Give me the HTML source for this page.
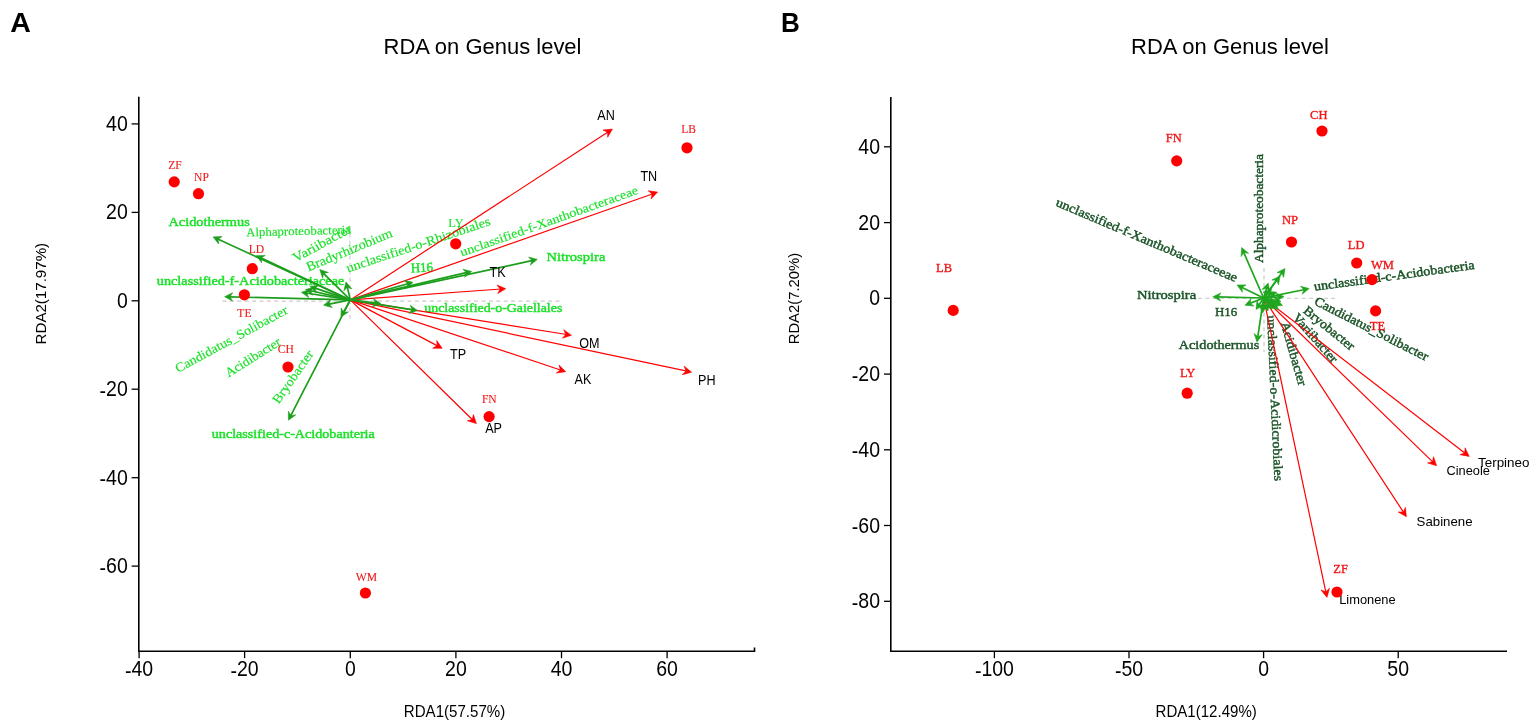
<!DOCTYPE html>
<html><head><meta charset="utf-8"><title>RDA on Genus level</title>
<style>
html,body{margin:0;padding:0;background:#fff;}
body{width:1535px;height:722px;overflow:hidden;}
svg{display:block;}
</style></head>
<body>
<svg width="1535" height="722" viewBox="0 0 1535 722">
<rect width="1535" height="722" fill="#fff"/>
<text x="10.3" y="32.1" font-size="28.5" font-family="'Liberation Sans', sans-serif" fill="#000" font-weight="bold">A</text>
<text x="383.5" y="54.3" font-size="22.6" font-family="'Liberation Sans', sans-serif" fill="#000" textLength="198.0" lengthAdjust="spacingAndGlyphs">RDA on Genus level</text>
<line x1="222.5" y1="301.1" x2="562.0" y2="301.1" stroke="#cfc8cf" stroke-width="1.1" stroke-dasharray="4,3.4"/>
<line x1="350.0" y1="226.0" x2="350.0" y2="320.0" stroke="#cfc8cf" stroke-width="1.1" stroke-dasharray="4,3.4"/>
<text x="168.4" y="226.3" font-size="12.8" font-family="'Liberation Serif', serif" fill="#1ce02a" textLength="81.4" lengthAdjust="spacingAndGlyphs" stroke="#1ce02a" stroke-width="0.45">Acidothermus</text>
<text x="246.2" y="236.4" font-size="12.3" font-family="'Liberation Serif', serif" fill="#1ce02a" textLength="105.0" lengthAdjust="spacingAndGlyphs" transform="rotate(-1.5 246.2 236.4)" stroke="#1ce02a" stroke-width="0.15">Alphaproteobacteria</text>
<text x="295.5" y="262.5" font-size="13.2" font-family="'Liberation Serif', serif" fill="#1ce02a" textLength="65.0" lengthAdjust="spacingAndGlyphs" transform="rotate(-28.5 295.5 262.5)" stroke="#1ce02a" stroke-width="0.15">Variibacter</text>
<text x="308.4" y="271.6" font-size="13.5" font-family="'Liberation Serif', serif" fill="#1ce02a" textLength="92.0" lengthAdjust="spacingAndGlyphs" transform="rotate(-22.5 308.4 271.6)" stroke="#1ce02a" stroke-width="0.15">Bradyrhizobium</text>
<text x="348.0" y="272.6" font-size="13" font-family="'Liberation Serif', serif" fill="#1ce02a" textLength="151.0" lengthAdjust="spacingAndGlyphs" transform="rotate(-18.5 348.0 272.6)" stroke="#1ce02a" stroke-width="0.15">unclassified-o-Rhizobiales</text>
<text x="461.8" y="256.6" font-size="12.5" font-family="'Liberation Serif', serif" fill="#1ce02a" textLength="188.0" lengthAdjust="spacingAndGlyphs" transform="rotate(-19.6 461.8 256.6)" stroke="#1ce02a" stroke-width="0.15">unclassified-f-Xanthobacteraceae</text>
<text x="410.9" y="272.6" font-size="13.5" font-family="'Liberation Serif', serif" fill="#1ce02a" textLength="22.4" lengthAdjust="spacingAndGlyphs" transform="rotate(-3.0 410.9 272.6)" stroke="#1ce02a" stroke-width="0.45">H16</text>
<text x="546.4" y="260.6" font-size="13.5" font-family="'Liberation Serif', serif" fill="#1ce02a" textLength="59.0" lengthAdjust="spacingAndGlyphs" stroke="#1ce02a" stroke-width="0.45">Nitrospira</text>
<text x="156.8" y="285.3" font-size="12.8" font-family="'Liberation Serif', serif" fill="#1ce02a" textLength="187.5" lengthAdjust="spacingAndGlyphs" stroke="#1ce02a" stroke-width="0.45">unclassified-f-Acidobacteriaceae</text>
<text x="424.3" y="312.2" font-size="13" font-family="'Liberation Serif', serif" fill="#1ce02a" textLength="138.0" lengthAdjust="spacingAndGlyphs" stroke="#1ce02a" stroke-width="0.45">unclassified-o-Gaiellales</text>
<text x="178.0" y="373.0" font-size="13" font-family="'Liberation Serif', serif" fill="#1ce02a" textLength="126.0" lengthAdjust="spacingAndGlyphs" transform="rotate(-28.5 178.0 373.0)" stroke="#1ce02a" stroke-width="0.15">Candidatus_Solibacter</text>
<text x="228.5" y="377.5" font-size="13" font-family="'Liberation Serif', serif" fill="#1ce02a" textLength="63.0" lengthAdjust="spacingAndGlyphs" transform="rotate(-32.0 228.5 377.5)" stroke="#1ce02a" stroke-width="0.15">Acidibacter</text>
<text x="278.8" y="404.4" font-size="13" font-family="'Liberation Serif', serif" fill="#1ce02a" textLength="61.5" lengthAdjust="spacingAndGlyphs" transform="rotate(-55.0 278.8 404.4)" stroke="#1ce02a" stroke-width="0.15">Bryobacter</text>
<text x="211.8" y="437.8" font-size="12.8" font-family="'Liberation Serif', serif" fill="#1ce02a" textLength="163.0" lengthAdjust="spacingAndGlyphs" stroke="#1ce02a" stroke-width="0.45">unclassified-c-Acidobanteria</text>
<line x1="350.3" y1="299.9" x2="608.4" y2="131.7" stroke="#ff0000" stroke-width="1.2" stroke-linecap="round"/>
<path d="M612.4,129.1L603.0,130.1L607.6,132.2L607.7,137.3Z" fill="#ff0000" stroke="#ff0000" stroke-width="0.6" stroke-linejoin="round"/>
<line x1="350.3" y1="299.9" x2="653.1" y2="193.7" stroke="#ff0000" stroke-width="1.2" stroke-linecap="round"/>
<path d="M657.6,192.1L648.2,190.8L652.2,194.0L651.0,199.0Z" fill="#ff0000" stroke="#ff0000" stroke-width="0.6" stroke-linejoin="round"/>
<line x1="350.3" y1="299.9" x2="501.1" y2="289.0" stroke="#ff0000" stroke-width="1.2" stroke-linecap="round"/>
<path d="M505.8,288.7L497.0,285.0L500.1,289.1L497.7,293.6Z" fill="#ff0000" stroke="#ff0000" stroke-width="0.6" stroke-linejoin="round"/>
<line x1="350.3" y1="299.9" x2="566.7" y2="334.5" stroke="#ff0000" stroke-width="1.2" stroke-linecap="round"/>
<path d="M571.4,335.3L563.7,329.7L565.8,334.4L562.4,338.2Z" fill="#ff0000" stroke="#ff0000" stroke-width="0.6" stroke-linejoin="round"/>
<line x1="350.3" y1="299.9" x2="438.0" y2="346.1" stroke="#ff0000" stroke-width="1.2" stroke-linecap="round"/>
<path d="M442.2,348.3L436.7,340.5L437.2,345.6L432.7,348.2Z" fill="#ff0000" stroke="#ff0000" stroke-width="0.6" stroke-linejoin="round"/>
<line x1="350.3" y1="299.9" x2="561.2" y2="370.2" stroke="#ff0000" stroke-width="1.2" stroke-linecap="round"/>
<path d="M565.7,371.7L559.0,364.9L560.3,369.9L556.3,373.1Z" fill="#ff0000" stroke="#ff0000" stroke-width="0.6" stroke-linejoin="round"/>
<line x1="350.3" y1="299.9" x2="687.0" y2="371.2" stroke="#ff0000" stroke-width="1.2" stroke-linecap="round"/>
<path d="M691.6,372.2L684.2,366.2L686.0,371.0L682.4,374.7Z" fill="#ff0000" stroke="#ff0000" stroke-width="0.6" stroke-linejoin="round"/>
<line x1="350.3" y1="299.9" x2="473.0" y2="420.3" stroke="#ff0000" stroke-width="1.2" stroke-linecap="round"/>
<path d="M476.4,423.6L473.4,414.6L472.3,419.6L467.3,420.8Z" fill="#ff0000" stroke="#ff0000" stroke-width="0.6" stroke-linejoin="round"/>
<line x1="350.3" y1="299.9" x2="217.2" y2="238.8" stroke="#1c9e1c" stroke-width="1.7" stroke-linecap="round"/>
<path d="M213.1,236.9L218.7,244.0L218.0,239.2L222.1,236.5Z" fill="#1c9e1c" stroke="#1c9e1c" stroke-width="0.6" stroke-linejoin="round"/>
<line x1="350.3" y1="299.9" x2="260.3" y2="257.6" stroke="#1c9e1c" stroke-width="1.7" stroke-linecap="round"/>
<path d="M256.2,255.7L261.7,262.8L261.1,258.0L265.2,255.4Z" fill="#1c9e1c" stroke="#1c9e1c" stroke-width="0.6" stroke-linejoin="round"/>
<line x1="350.3" y1="299.9" x2="229.1" y2="296.8" stroke="#1c9e1c" stroke-width="1.7" stroke-linecap="round"/>
<path d="M224.6,296.7L232.5,301.0L230.0,296.8L232.7,292.8Z" fill="#1c9e1c" stroke="#1c9e1c" stroke-width="0.6" stroke-linejoin="round"/>
<line x1="350.3" y1="299.9" x2="323.0" y2="272.8" stroke="#1c9e1c" stroke-width="1.7" stroke-linecap="round"/>
<path d="M319.8,269.6L322.6,278.2L323.6,273.4L328.4,272.4Z" fill="#1c9e1c" stroke="#1c9e1c" stroke-width="0.6" stroke-linejoin="round"/>
<line x1="350.3" y1="299.9" x2="347.1" y2="286.4" stroke="#1c9e1c" stroke-width="1.7" stroke-linecap="round"/>
<path d="M346.0,282.0L343.9,290.8L347.3,287.3L351.8,288.8Z" fill="#1c9e1c" stroke="#1c9e1c" stroke-width="0.6" stroke-linejoin="round"/>
<line x1="350.3" y1="299.9" x2="305.8" y2="293.0" stroke="#1c9e1c" stroke-width="1.7" stroke-linecap="round"/>
<path d="M301.4,292.3L308.7,297.6L306.7,293.1L310.0,289.5Z" fill="#1c9e1c" stroke="#1c9e1c" stroke-width="0.6" stroke-linejoin="round"/>
<line x1="350.3" y1="299.9" x2="309.9" y2="290.5" stroke="#1c9e1c" stroke-width="1.7" stroke-linecap="round"/>
<path d="M305.5,289.5L312.4,295.3L310.8,290.7L314.2,287.3Z" fill="#1c9e1c" stroke="#1c9e1c" stroke-width="0.6" stroke-linejoin="round"/>
<line x1="350.3" y1="299.9" x2="314.3" y2="287.9" stroke="#1c9e1c" stroke-width="1.7" stroke-linecap="round"/>
<path d="M310.0,286.5L316.3,292.9L315.1,288.2L318.9,285.2Z" fill="#1c9e1c" stroke="#1c9e1c" stroke-width="0.6" stroke-linejoin="round"/>
<line x1="350.3" y1="299.9" x2="328.0" y2="304.3" stroke="#1c9e1c" stroke-width="1.7" stroke-linecap="round"/>
<path d="M323.6,305.2L332.3,307.6L328.9,304.1L330.7,299.6Z" fill="#1c9e1c" stroke="#1c9e1c" stroke-width="0.6" stroke-linejoin="round"/>
<line x1="350.3" y1="299.9" x2="343.1" y2="313.0" stroke="#1c9e1c" stroke-width="1.7" stroke-linecap="round"/>
<path d="M341.0,317.0L348.4,311.9L343.6,312.3L341.2,308.0Z" fill="#1c9e1c" stroke="#1c9e1c" stroke-width="0.6" stroke-linejoin="round"/>
<line x1="350.3" y1="299.9" x2="290.5" y2="416.2" stroke="#1c9e1c" stroke-width="1.7" stroke-linecap="round"/>
<path d="M288.4,420.2L295.7,414.9L290.9,415.4L288.4,411.2Z" fill="#1c9e1c" stroke="#1c9e1c" stroke-width="0.6" stroke-linejoin="round"/>
<line x1="350.3" y1="299.9" x2="532.9" y2="260.4" stroke="#1c9e1c" stroke-width="1.7" stroke-linecap="round"/>
<path d="M537.3,259.4L528.6,257.1L532.0,260.5L530.3,265.1Z" fill="#1c9e1c" stroke="#1c9e1c" stroke-width="0.6" stroke-linejoin="round"/>
<line x1="350.3" y1="299.9" x2="467.2" y2="272.4" stroke="#1c9e1c" stroke-width="1.7" stroke-linecap="round"/>
<path d="M471.6,271.4L462.9,269.3L466.3,272.6L464.7,277.2Z" fill="#1c9e1c" stroke="#1c9e1c" stroke-width="0.6" stroke-linejoin="round"/>
<line x1="350.3" y1="299.9" x2="408.7" y2="283.5" stroke="#1c9e1c" stroke-width="1.7" stroke-linecap="round"/>
<path d="M413.0,282.3L404.2,280.5L407.8,283.8L406.4,288.4Z" fill="#1c9e1c" stroke="#1c9e1c" stroke-width="0.6" stroke-linejoin="round"/>
<line x1="350.3" y1="299.9" x2="413.1" y2="309.9" stroke="#1c9e1c" stroke-width="1.7" stroke-linecap="round"/>
<path d="M417.5,310.6L410.2,305.3L412.2,309.8L408.9,313.4Z" fill="#1c9e1c" stroke="#1c9e1c" stroke-width="0.6" stroke-linejoin="round"/>
<line x1="350.3" y1="299.9" x2="376.5" y2="303.1" stroke="#1c9e1c" stroke-width="1.7" stroke-linecap="round"/>
<path d="M381.0,303.7L373.5,298.7L375.6,303.0L372.5,306.8Z" fill="#1c9e1c" stroke="#1c9e1c" stroke-width="0.6" stroke-linejoin="round"/>
<text x="606.0" y="120.1" font-size="14.4" font-family="'Liberation Sans', sans-serif" fill="#000" text-anchor="middle" textLength="17.5" lengthAdjust="spacingAndGlyphs">AN</text>
<text x="648.8" y="181.1" font-size="14.4" font-family="'Liberation Sans', sans-serif" fill="#000" text-anchor="middle" textLength="16.8" lengthAdjust="spacingAndGlyphs">TN</text>
<text x="497.6" y="277.3" font-size="14.4" font-family="'Liberation Sans', sans-serif" fill="#000" text-anchor="middle" textLength="16.1" lengthAdjust="spacingAndGlyphs">TK</text>
<text x="589.3" y="347.6" font-size="14.4" font-family="'Liberation Sans', sans-serif" fill="#000" text-anchor="middle" textLength="20.3" lengthAdjust="spacingAndGlyphs">OM</text>
<text x="458.1" y="359.1" font-size="14.4" font-family="'Liberation Sans', sans-serif" fill="#000" text-anchor="middle" textLength="16.1" lengthAdjust="spacingAndGlyphs">TP</text>
<text x="583.0" y="384.0" font-size="14.4" font-family="'Liberation Sans', sans-serif" fill="#000" text-anchor="middle" textLength="16.8" lengthAdjust="spacingAndGlyphs">AK</text>
<text x="706.8" y="384.8" font-size="14.4" font-family="'Liberation Sans', sans-serif" fill="#000" text-anchor="middle" textLength="17.5" lengthAdjust="spacingAndGlyphs">PH</text>
<text x="493.6" y="432.7" font-size="14.4" font-family="'Liberation Sans', sans-serif" fill="#000" text-anchor="middle" textLength="16.8" lengthAdjust="spacingAndGlyphs">AP</text>
<circle cx="174.2" cy="181.9" r="5.6" fill="#ff0000"/>
<text x="174.9" y="168.7" font-size="12.4" font-family="'Liberation Serif', serif" fill="#f01818" text-anchor="middle" textLength="13.5" lengthAdjust="spacingAndGlyphs" stroke="#f01818" stroke-width="0.1">ZF</text>
<circle cx="198.5" cy="193.7" r="5.6" fill="#ff0000"/>
<text x="201.5" y="181.2" font-size="12.4" font-family="'Liberation Serif', serif" fill="#f01818" text-anchor="middle" textLength="14.8" lengthAdjust="spacingAndGlyphs" stroke="#f01818" stroke-width="0.1">NP</text>
<circle cx="252.3" cy="268.7" r="5.6" fill="#ff0000"/>
<text x="256.4" y="252.5" font-size="12.4" font-family="'Liberation Serif', serif" fill="#f01818" text-anchor="middle" textLength="15.5" lengthAdjust="spacingAndGlyphs" stroke="#f01818" stroke-width="0.1">LD</text>
<circle cx="244.4" cy="294.8" r="5.6" fill="#ff0000"/>
<text x="244.4" y="317.0" font-size="12.4" font-family="'Liberation Serif', serif" fill="#f01818" text-anchor="middle" textLength="14.2" lengthAdjust="spacingAndGlyphs" stroke="#f01818" stroke-width="0.1">TE</text>
<circle cx="288.0" cy="367.0" r="5.6" fill="#ff0000"/>
<text x="285.8" y="352.6" font-size="12.4" font-family="'Liberation Serif', serif" fill="#f01818" text-anchor="middle" textLength="16.1" lengthAdjust="spacingAndGlyphs" stroke="#f01818" stroke-width="0.1">CH</text>
<circle cx="455.7" cy="243.8" r="5.6" fill="#ff0000"/>
<text x="456.1" y="226.5" font-size="12.4" font-family="'Liberation Serif', serif" fill="#1ce02a" text-anchor="middle" textLength="15.5" lengthAdjust="spacingAndGlyphs" stroke="#1ce02a" stroke-width="0.1">LY</text>
<circle cx="489.1" cy="416.6" r="5.6" fill="#ff0000"/>
<text x="489.3" y="403.2" font-size="12.4" font-family="'Liberation Serif', serif" fill="#f01818" text-anchor="middle" textLength="14.8" lengthAdjust="spacingAndGlyphs" stroke="#f01818" stroke-width="0.1">FN</text>
<circle cx="365.4" cy="593.0" r="5.6" fill="#ff0000"/>
<text x="366.5" y="580.5" font-size="12.4" font-family="'Liberation Serif', serif" fill="#f01818" text-anchor="middle" textLength="21.3" lengthAdjust="spacingAndGlyphs" stroke="#f01818" stroke-width="0.1">WM</text>
<circle cx="687.0" cy="147.8" r="5.6" fill="#ff0000"/>
<text x="688.6" y="133.2" font-size="12.4" font-family="'Liberation Serif', serif" fill="#f01818" text-anchor="middle" textLength="14.8" lengthAdjust="spacingAndGlyphs" stroke="#f01818" stroke-width="0.1">LB</text>
<path d="M138.8,96.8V651.2H754.5V647.6" fill="none" stroke="#000" stroke-width="1.6"/>
<line x1="131.6" y1="123.9" x2="138.8" y2="123.9" stroke="#000" stroke-width="1.3" />
<text x="127.8" y="130.9" font-size="22.4" font-family="'Liberation Sans', sans-serif" fill="#000" text-anchor="end" textLength="21.7" lengthAdjust="spacingAndGlyphs">40</text>
<line x1="131.6" y1="212.4" x2="138.8" y2="212.4" stroke="#000" stroke-width="1.3" />
<text x="127.8" y="219.4" font-size="22.4" font-family="'Liberation Sans', sans-serif" fill="#000" text-anchor="end" textLength="21.7" lengthAdjust="spacingAndGlyphs">20</text>
<line x1="131.6" y1="300.8" x2="138.8" y2="300.8" stroke="#000" stroke-width="1.3" />
<text x="127.8" y="307.8" font-size="22.4" font-family="'Liberation Sans', sans-serif" fill="#000" text-anchor="end" textLength="10.8" lengthAdjust="spacingAndGlyphs">0</text>
<line x1="131.6" y1="389.2" x2="138.8" y2="389.2" stroke="#000" stroke-width="1.3" />
<text x="127.8" y="396.2" font-size="22.4" font-family="'Liberation Sans', sans-serif" fill="#000" text-anchor="end" textLength="28.2" lengthAdjust="spacingAndGlyphs"><tspan dy="1.6">-</tspan><tspan dy="-1.6">20</tspan></text>
<line x1="131.6" y1="477.7" x2="138.8" y2="477.7" stroke="#000" stroke-width="1.3" />
<text x="127.8" y="484.7" font-size="22.4" font-family="'Liberation Sans', sans-serif" fill="#000" text-anchor="end" textLength="28.2" lengthAdjust="spacingAndGlyphs"><tspan dy="1.6">-</tspan><tspan dy="-1.6">40</tspan></text>
<line x1="131.6" y1="566.1" x2="138.8" y2="566.1" stroke="#000" stroke-width="1.3" />
<text x="127.8" y="573.1" font-size="22.4" font-family="'Liberation Sans', sans-serif" fill="#000" text-anchor="end" textLength="28.2" lengthAdjust="spacingAndGlyphs"><tspan dy="1.6">-</tspan><tspan dy="-1.6">60</tspan></text>
<line x1="139.1" y1="651.2" x2="139.1" y2="658.2" stroke="#000" stroke-width="1.3" />
<text x="139.1" y="676.4" font-size="22.4" font-family="'Liberation Sans', sans-serif" fill="#000" text-anchor="middle" textLength="28.2" lengthAdjust="spacingAndGlyphs"><tspan dy="1.6">-</tspan><tspan dy="-1.6">40</tspan></text>
<line x1="244.6" y1="651.2" x2="244.6" y2="658.2" stroke="#000" stroke-width="1.3" />
<text x="244.6" y="676.4" font-size="22.4" font-family="'Liberation Sans', sans-serif" fill="#000" text-anchor="middle" textLength="28.2" lengthAdjust="spacingAndGlyphs"><tspan dy="1.6">-</tspan><tspan dy="-1.6">20</tspan></text>
<line x1="350.3" y1="651.2" x2="350.3" y2="658.2" stroke="#000" stroke-width="1.3" />
<text x="350.3" y="676.4" font-size="22.4" font-family="'Liberation Sans', sans-serif" fill="#000" text-anchor="middle" textLength="10.8" lengthAdjust="spacingAndGlyphs">0</text>
<line x1="455.9" y1="651.2" x2="455.9" y2="658.2" stroke="#000" stroke-width="1.3" />
<text x="455.9" y="676.4" font-size="22.4" font-family="'Liberation Sans', sans-serif" fill="#000" text-anchor="middle" textLength="21.7" lengthAdjust="spacingAndGlyphs">20</text>
<line x1="561.5" y1="651.2" x2="561.5" y2="658.2" stroke="#000" stroke-width="1.3" />
<text x="561.5" y="676.4" font-size="22.4" font-family="'Liberation Sans', sans-serif" fill="#000" text-anchor="middle" textLength="21.7" lengthAdjust="spacingAndGlyphs">40</text>
<line x1="667.1" y1="651.2" x2="667.1" y2="658.2" stroke="#000" stroke-width="1.3" />
<text x="667.1" y="676.4" font-size="22.4" font-family="'Liberation Sans', sans-serif" fill="#000" text-anchor="middle" textLength="21.7" lengthAdjust="spacingAndGlyphs">60</text>
<text x="403.8" y="716.7" font-size="17.2" font-family="'Liberation Sans', sans-serif" fill="#000" textLength="101.5" lengthAdjust="spacingAndGlyphs">RDA1(57.57%)</text>
<text x="45.7" y="344.4" font-size="15.5" font-family="'Liberation Sans', sans-serif" fill="#000" textLength="101.5" lengthAdjust="spacingAndGlyphs" transform="rotate(-90.0 45.7 344.4)">RDA2(17.97%)</text>
<text x="781.1" y="32.1" font-size="28.5" font-family="'Liberation Sans', sans-serif" fill="#000" font-weight="bold" textLength="18.8" lengthAdjust="spacingAndGlyphs">B</text>
<text x="1131.0" y="54.3" font-size="22.6" font-family="'Liberation Sans', sans-serif" fill="#000" textLength="198.0" lengthAdjust="spacingAndGlyphs">RDA on Genus level</text>
<line x1="1198.0" y1="298.3" x2="1335.0" y2="298.3" stroke="#c4c4c4" stroke-width="1.1" stroke-dasharray="4,3.4"/>
<line x1="1264.0" y1="268.0" x2="1264.0" y2="352.0" stroke="#c4c4c4" stroke-width="1.1" stroke-dasharray="4,3.4"/>
<text x="1055.0" y="205.5" font-size="12.9" font-family="'Liberation Serif', serif" fill="#1b5428" textLength="196.0" lengthAdjust="spacingAndGlyphs" transform="rotate(23.0 1055.0 205.5)" stroke="#1b5428" stroke-width="0.45">unclassified-f-Xanthobacteraceeae</text>
<text x="1262.6" y="263.0" font-size="12.9" font-family="'Liberation Serif', serif" fill="#1b5428" textLength="109.0" lengthAdjust="spacingAndGlyphs" transform="rotate(-90.0 1262.6 263.0)" stroke="#1b5428" stroke-width="0.45">Alphaproteobacteria</text>
<text x="1137.0" y="298.8" font-size="12.9" font-family="'Liberation Serif', serif" fill="#1b5428" textLength="59.2" lengthAdjust="spacingAndGlyphs" stroke="#1b5428" stroke-width="0.45">Nitrospira</text>
<text x="1215.0" y="316.0" font-size="12.9" font-family="'Liberation Serif', serif" fill="#1b5428" textLength="22.2" lengthAdjust="spacingAndGlyphs" stroke="#1b5428" stroke-width="0.45">H16</text>
<text x="1178.8" y="349.4" font-size="13.2" font-family="'Liberation Serif', serif" fill="#1b5428" textLength="80.4" lengthAdjust="spacingAndGlyphs" stroke="#1b5428" stroke-width="0.45">Acidothermus</text>
<text x="1314.5" y="290.8" font-size="12.9" font-family="'Liberation Serif', serif" fill="#1b5428" textLength="162.0" lengthAdjust="spacingAndGlyphs" transform="rotate(-7.8 1314.5 290.8)" stroke="#1b5428" stroke-width="0.45">unclassified-c-Acidobacteria</text>
<text x="1313.5" y="304.0" font-size="12.9" font-family="'Liberation Serif', serif" fill="#1b5428" textLength="126.0" lengthAdjust="spacingAndGlyphs" transform="rotate(27.0 1313.5 304.0)" stroke="#1b5428" stroke-width="0.45">Candidatus_Solibacter</text>
<text x="1302.5" y="312.0" font-size="12.9" font-family="'Liberation Serif', serif" fill="#1b5428" textLength="62.0" lengthAdjust="spacingAndGlyphs" transform="rotate(39.0 1302.5 312.0)" stroke="#1b5428" stroke-width="0.45">Bryobacter</text>
<text x="1292.0" y="318.0" font-size="12.9" font-family="'Liberation Serif', serif" fill="#1b5428" textLength="61.0" lengthAdjust="spacingAndGlyphs" transform="rotate(48.6 1292.0 318.0)" stroke="#1b5428" stroke-width="0.45">Variibacter</text>
<text x="1280.7" y="323.2" font-size="12.9" font-family="'Liberation Serif', serif" fill="#1b5428" textLength="66.0" lengthAdjust="spacingAndGlyphs" transform="rotate(74.0 1280.7 323.2)" stroke="#1b5428" stroke-width="0.45">Acidibacter</text>
<text x="1267.2" y="315.5" font-size="12.9" font-family="'Liberation Serif', serif" fill="#1b5428" textLength="166.0" lengthAdjust="spacingAndGlyphs" transform="rotate(87.5 1267.2 315.5)" stroke="#1b5428" stroke-width="0.45">unclassified-o-Acidicrobiales</text>
<line x1="1263.6" y1="298.0" x2="1465.4" y2="453.5" stroke="#ff0000" stroke-width="1.2" stroke-linecap="round"/>
<path d="M1469.2,456.4L1465.1,447.8L1464.7,452.9L1459.9,454.7Z" fill="#ff0000" stroke="#ff0000" stroke-width="0.6" stroke-linejoin="round"/>
<line x1="1263.6" y1="298.0" x2="1433.2" y2="462.4" stroke="#ff0000" stroke-width="1.2" stroke-linecap="round"/>
<path d="M1436.6,465.7L1433.5,456.7L1432.5,461.7L1427.5,462.9Z" fill="#ff0000" stroke="#ff0000" stroke-width="0.6" stroke-linejoin="round"/>
<line x1="1263.6" y1="298.0" x2="1403.8" y2="512.7" stroke="#ff0000" stroke-width="1.2" stroke-linecap="round"/>
<path d="M1406.4,516.7L1405.4,507.3L1403.3,511.9L1398.2,512.0Z" fill="#ff0000" stroke="#ff0000" stroke-width="0.6" stroke-linejoin="round"/>
<line x1="1263.6" y1="298.0" x2="1326.0" y2="592.8" stroke="#ff0000" stroke-width="1.2" stroke-linecap="round"/>
<path d="M1327.0,597.4L1329.5,588.2L1325.8,591.8L1321.0,590.0Z" fill="#ff0000" stroke="#ff0000" stroke-width="0.6" stroke-linejoin="round"/>
<line x1="1263.6" y1="298.0" x2="1243.4" y2="251.7" stroke="#1fa61f" stroke-width="1.7" stroke-linecap="round"/>
<path d="M1241.6,247.6L1241.1,256.6L1243.8,252.5L1248.6,253.3Z" fill="#1fa61f" stroke="#1fa61f" stroke-width="0.6" stroke-linejoin="round"/>
<line x1="1263.6" y1="298.0" x2="1282.4" y2="272.1" stroke="#1fa61f" stroke-width="1.7" stroke-linecap="round"/>
<path d="M1285.0,268.5L1277.0,272.6L1281.8,272.9L1283.6,277.4Z" fill="#1fa61f" stroke="#1fa61f" stroke-width="0.6" stroke-linejoin="round"/>
<line x1="1263.6" y1="298.0" x2="1277.3" y2="279.6" stroke="#1fa61f" stroke-width="1.7" stroke-linecap="round"/>
<path d="M1280.0,276.0L1271.9,280.0L1276.8,280.3L1278.5,284.9Z" fill="#1fa61f" stroke="#1fa61f" stroke-width="0.6" stroke-linejoin="round"/>
<line x1="1263.6" y1="298.0" x2="1266.9" y2="287.3" stroke="#1fa61f" stroke-width="1.7" stroke-linecap="round"/>
<path d="M1268.2,283.0L1261.9,289.5L1266.6,288.2L1269.8,291.9Z" fill="#1fa61f" stroke="#1fa61f" stroke-width="0.6" stroke-linejoin="round"/>
<line x1="1263.6" y1="298.0" x2="1304.8" y2="289.5" stroke="#1fa61f" stroke-width="1.7" stroke-linecap="round"/>
<path d="M1309.2,288.6L1300.5,286.2L1303.9,289.7L1302.2,294.2Z" fill="#1fa61f" stroke="#1fa61f" stroke-width="0.6" stroke-linejoin="round"/>
<line x1="1263.6" y1="298.0" x2="1217.3" y2="296.9" stroke="#1fa61f" stroke-width="1.7" stroke-linecap="round"/>
<path d="M1212.8,296.8L1220.7,301.1L1218.2,296.9L1220.9,292.9Z" fill="#1fa61f" stroke="#1fa61f" stroke-width="0.6" stroke-linejoin="round"/>
<line x1="1263.6" y1="298.0" x2="1249.2" y2="303.6" stroke="#1fa61f" stroke-width="1.7" stroke-linecap="round"/>
<path d="M1245.0,305.2L1254.0,306.1L1250.0,303.3L1251.0,298.5Z" fill="#1fa61f" stroke="#1fa61f" stroke-width="0.6" stroke-linejoin="round"/>
<line x1="1263.6" y1="298.0" x2="1241.0" y2="287.0" stroke="#1fa61f" stroke-width="1.7" stroke-linecap="round"/>
<path d="M1237.0,285.0L1242.4,292.2L1241.9,287.4L1246.0,284.9Z" fill="#1fa61f" stroke="#1fa61f" stroke-width="0.6" stroke-linejoin="round"/>
<line x1="1263.6" y1="298.0" x2="1257.7" y2="337.5" stroke="#1fa61f" stroke-width="1.7" stroke-linecap="round"/>
<path d="M1257.0,342.0L1262.2,334.7L1257.8,336.7L1254.1,333.5Z" fill="#1fa61f" stroke="#1fa61f" stroke-width="0.6" stroke-linejoin="round"/>
<line x1="1263.6" y1="298.0" x2="1276.6" y2="300.6" stroke="#1fa61f" stroke-width="1.7" stroke-linecap="round"/>
<path d="M1281.0,301.5L1273.9,295.9L1275.7,300.4L1272.3,303.9Z" fill="#1fa61f" stroke="#1fa61f" stroke-width="0.6" stroke-linejoin="round"/>
<line x1="1263.6" y1="298.0" x2="1272.2" y2="303.6" stroke="#1fa61f" stroke-width="1.7" stroke-linecap="round"/>
<path d="M1276.0,306.0L1271.5,298.2L1271.5,303.1L1267.0,305.1Z" fill="#1fa61f" stroke="#1fa61f" stroke-width="0.6" stroke-linejoin="round"/>
<line x1="1263.6" y1="298.0" x2="1269.3" y2="305.4" stroke="#1fa61f" stroke-width="1.7" stroke-linecap="round"/>
<path d="M1272.0,309.0L1270.4,300.1L1268.7,304.7L1263.9,305.1Z" fill="#1fa61f" stroke="#1fa61f" stroke-width="0.6" stroke-linejoin="round"/>
<line x1="1263.6" y1="298.0" x2="1266.6" y2="306.7" stroke="#1fa61f" stroke-width="1.7" stroke-linecap="round"/>
<path d="M1268.0,311.0L1269.3,302.1L1266.3,305.9L1261.6,304.7Z" fill="#1fa61f" stroke="#1fa61f" stroke-width="0.6" stroke-linejoin="round"/>
<line x1="1263.6" y1="298.0" x2="1279.5" y2="296.8" stroke="#1fa61f" stroke-width="1.7" stroke-linecap="round"/>
<path d="M1284.0,296.5L1275.7,293.0L1278.6,296.9L1276.3,301.2Z" fill="#1fa61f" stroke="#1fa61f" stroke-width="0.6" stroke-linejoin="round"/>
<line x1="1263.6" y1="298.0" x2="1278.3" y2="303.8" stroke="#1fa61f" stroke-width="1.7" stroke-linecap="round"/>
<path d="M1282.5,305.5L1276.6,298.7L1277.5,303.5L1273.5,306.3Z" fill="#1fa61f" stroke="#1fa61f" stroke-width="0.6" stroke-linejoin="round"/>
<line x1="1263.6" y1="298.0" x2="1274.9" y2="306.8" stroke="#1fa61f" stroke-width="1.7" stroke-linecap="round"/>
<path d="M1278.5,309.5L1274.6,301.4L1274.2,306.2L1269.7,307.8Z" fill="#1fa61f" stroke="#1fa61f" stroke-width="0.6" stroke-linejoin="round"/>
<line x1="1263.6" y1="298.0" x2="1262.8" y2="308.5" stroke="#1fa61f" stroke-width="1.7" stroke-linecap="round"/>
<path d="M1262.5,313.0L1267.2,305.3L1262.9,307.6L1259.0,304.7Z" fill="#1fa61f" stroke="#1fa61f" stroke-width="0.6" stroke-linejoin="round"/>
<line x1="1263.6" y1="298.0" x2="1258.5" y2="305.7" stroke="#1fa61f" stroke-width="1.7" stroke-linecap="round"/>
<path d="M1256.0,309.5L1263.8,305.1L1259.0,305.0L1257.0,300.6Z" fill="#1fa61f" stroke="#1fa61f" stroke-width="0.6" stroke-linejoin="round"/>
<line x1="1263.6" y1="298.0" x2="1268.5" y2="292.4" stroke="#1fa61f" stroke-width="1.7" stroke-linecap="round"/>
<path d="M1271.5,289.0L1263.1,292.3L1267.9,293.1L1269.3,297.7Z" fill="#1fa61f" stroke="#1fa61f" stroke-width="0.6" stroke-linejoin="round"/>
<line x1="1263.6" y1="298.0" x2="1272.4" y2="293.9" stroke="#1fa61f" stroke-width="1.7" stroke-linecap="round"/>
<path d="M1276.5,292.0L1267.5,291.7L1271.6,294.3L1271.0,299.1Z" fill="#1fa61f" stroke="#1fa61f" stroke-width="0.6" stroke-linejoin="round"/>
<text x="1478.0" y="466.6" font-size="13.6" font-family="'Liberation Sans', sans-serif" fill="#000" textLength="51.5" lengthAdjust="spacingAndGlyphs">Terpineo</text>
<text x="1446.4" y="474.8" font-size="13.6" font-family="'Liberation Sans', sans-serif" fill="#000" textLength="43.5" lengthAdjust="spacingAndGlyphs">Cineole</text>
<text x="1416.6" y="525.6" font-size="13.6" font-family="'Liberation Sans', sans-serif" fill="#000" textLength="56.0" lengthAdjust="spacingAndGlyphs">Sabinene</text>
<text x="1339.2" y="604.4" font-size="13.6" font-family="'Liberation Sans', sans-serif" fill="#000" textLength="56.5" lengthAdjust="spacingAndGlyphs">Limonene</text>
<circle cx="1176.7" cy="160.9" r="5.6" fill="#ff0000"/>
<text x="1173.8" y="141.9" font-size="12.5" font-family="'Liberation Serif', serif" fill="#f01818" text-anchor="middle" stroke="#f01818" stroke-width="0.35">FN</text>
<circle cx="1322.0" cy="131.0" r="5.6" fill="#ff0000"/>
<text x="1318.8" y="118.7" font-size="12.5" font-family="'Liberation Serif', serif" fill="#f01818" text-anchor="middle" stroke="#f01818" stroke-width="0.35">CH</text>
<circle cx="1291.5" cy="242.0" r="5.6" fill="#ff0000"/>
<text x="1290.0" y="223.5" font-size="12.5" font-family="'Liberation Serif', serif" fill="#f01818" text-anchor="middle" stroke="#f01818" stroke-width="0.35">NP</text>
<circle cx="1356.7" cy="263.0" r="5.6" fill="#ff0000"/>
<text x="1356.2" y="249.3" font-size="12.5" font-family="'Liberation Serif', serif" fill="#f01818" text-anchor="middle" stroke="#f01818" stroke-width="0.35">LD</text>
<circle cx="1372.0" cy="279.6" r="5.6" fill="#ff0000"/>
<text x="1382.5" y="268.6" font-size="12.5" font-family="'Liberation Serif', serif" fill="#f01818" text-anchor="middle" stroke="#f01818" stroke-width="0.35">WM</text>
<circle cx="1375.6" cy="310.9" r="5.6" fill="#ff0000"/>
<text x="1377.5" y="330.4" font-size="12.5" font-family="'Liberation Serif', serif" fill="#f01818" text-anchor="middle" stroke="#f01818" stroke-width="0.35">TE</text>
<circle cx="953.2" cy="310.4" r="5.6" fill="#ff0000"/>
<text x="944.0" y="272.4" font-size="12.5" font-family="'Liberation Serif', serif" fill="#f01818" text-anchor="middle" stroke="#f01818" stroke-width="0.35">LB</text>
<circle cx="1187.2" cy="393.2" r="5.6" fill="#ff0000"/>
<text x="1187.7" y="376.7" font-size="12.5" font-family="'Liberation Serif', serif" fill="#f01818" text-anchor="middle" stroke="#f01818" stroke-width="0.35">LY</text>
<circle cx="1337.0" cy="592.0" r="5.6" fill="#ff0000"/>
<text x="1340.6" y="573.0" font-size="12.5" font-family="'Liberation Serif', serif" fill="#f01818" text-anchor="middle" stroke="#f01818" stroke-width="0.35">ZF</text>
<path d="M890.8,97V651.3H1507" fill="none" stroke="#000" stroke-width="1.6"/>
<line x1="884.0" y1="146.8" x2="890.7" y2="146.8" stroke="#000" stroke-width="1.3" />
<text x="880.0" y="153.8" font-size="22.4" font-family="'Liberation Sans', sans-serif" fill="#000" text-anchor="end" textLength="21.7" lengthAdjust="spacingAndGlyphs">40</text>
<line x1="884.0" y1="222.6" x2="890.7" y2="222.6" stroke="#000" stroke-width="1.3" />
<text x="880.0" y="229.6" font-size="22.4" font-family="'Liberation Sans', sans-serif" fill="#000" text-anchor="end" textLength="21.7" lengthAdjust="spacingAndGlyphs">20</text>
<line x1="884.0" y1="298.3" x2="890.7" y2="298.3" stroke="#000" stroke-width="1.3" />
<text x="880.0" y="305.3" font-size="22.4" font-family="'Liberation Sans', sans-serif" fill="#000" text-anchor="end" textLength="10.8" lengthAdjust="spacingAndGlyphs">0</text>
<line x1="884.0" y1="374.1" x2="890.7" y2="374.1" stroke="#000" stroke-width="1.3" />
<text x="880.0" y="381.1" font-size="22.4" font-family="'Liberation Sans', sans-serif" fill="#000" text-anchor="end" textLength="28.2" lengthAdjust="spacingAndGlyphs"><tspan dy="1.6">-</tspan><tspan dy="-1.6">20</tspan></text>
<line x1="884.0" y1="449.8" x2="890.7" y2="449.8" stroke="#000" stroke-width="1.3" />
<text x="880.0" y="456.8" font-size="22.4" font-family="'Liberation Sans', sans-serif" fill="#000" text-anchor="end" textLength="28.2" lengthAdjust="spacingAndGlyphs"><tspan dy="1.6">-</tspan><tspan dy="-1.6">40</tspan></text>
<line x1="884.0" y1="525.5" x2="890.7" y2="525.5" stroke="#000" stroke-width="1.3" />
<text x="880.0" y="532.5" font-size="22.4" font-family="'Liberation Sans', sans-serif" fill="#000" text-anchor="end" textLength="28.2" lengthAdjust="spacingAndGlyphs"><tspan dy="1.6">-</tspan><tspan dy="-1.6">60</tspan></text>
<line x1="884.0" y1="601.3" x2="890.7" y2="601.3" stroke="#000" stroke-width="1.3" />
<text x="880.0" y="608.3" font-size="22.4" font-family="'Liberation Sans', sans-serif" fill="#000" text-anchor="end" textLength="28.2" lengthAdjust="spacingAndGlyphs"><tspan dy="1.6">-</tspan><tspan dy="-1.6">80</tspan></text>
<line x1="994.4" y1="651.3" x2="994.4" y2="658.2" stroke="#000" stroke-width="1.3" />
<text x="994.4" y="676.4" font-size="22.4" font-family="'Liberation Sans', sans-serif" fill="#000" text-anchor="middle" textLength="39.0" lengthAdjust="spacingAndGlyphs"><tspan dy="1.6">-</tspan><tspan dy="-1.6">100</tspan></text>
<line x1="1129.0" y1="651.3" x2="1129.0" y2="658.2" stroke="#000" stroke-width="1.3" />
<text x="1129.0" y="676.4" font-size="22.4" font-family="'Liberation Sans', sans-serif" fill="#000" text-anchor="middle" textLength="28.2" lengthAdjust="spacingAndGlyphs"><tspan dy="1.6">-</tspan><tspan dy="-1.6">50</tspan></text>
<line x1="1263.6" y1="651.3" x2="1263.6" y2="658.2" stroke="#000" stroke-width="1.3" />
<text x="1263.6" y="676.4" font-size="22.4" font-family="'Liberation Sans', sans-serif" fill="#000" text-anchor="middle" textLength="10.8" lengthAdjust="spacingAndGlyphs">0</text>
<line x1="1398.2" y1="651.3" x2="1398.2" y2="658.2" stroke="#000" stroke-width="1.3" />
<text x="1398.2" y="676.4" font-size="22.4" font-family="'Liberation Sans', sans-serif" fill="#000" text-anchor="middle" textLength="21.7" lengthAdjust="spacingAndGlyphs">50</text>
<text x="1155.6" y="716.7" font-size="17.2" font-family="'Liberation Sans', sans-serif" fill="#000" textLength="101.2" lengthAdjust="spacingAndGlyphs">RDA1(12.49%)</text>
<text x="798.8" y="344.3" font-size="15.5" font-family="'Liberation Sans', sans-serif" fill="#000" textLength="91.5" lengthAdjust="spacingAndGlyphs" transform="rotate(-90.0 798.8 344.3)">RDA2(7.20%)</text>
</svg>
</body></html>
